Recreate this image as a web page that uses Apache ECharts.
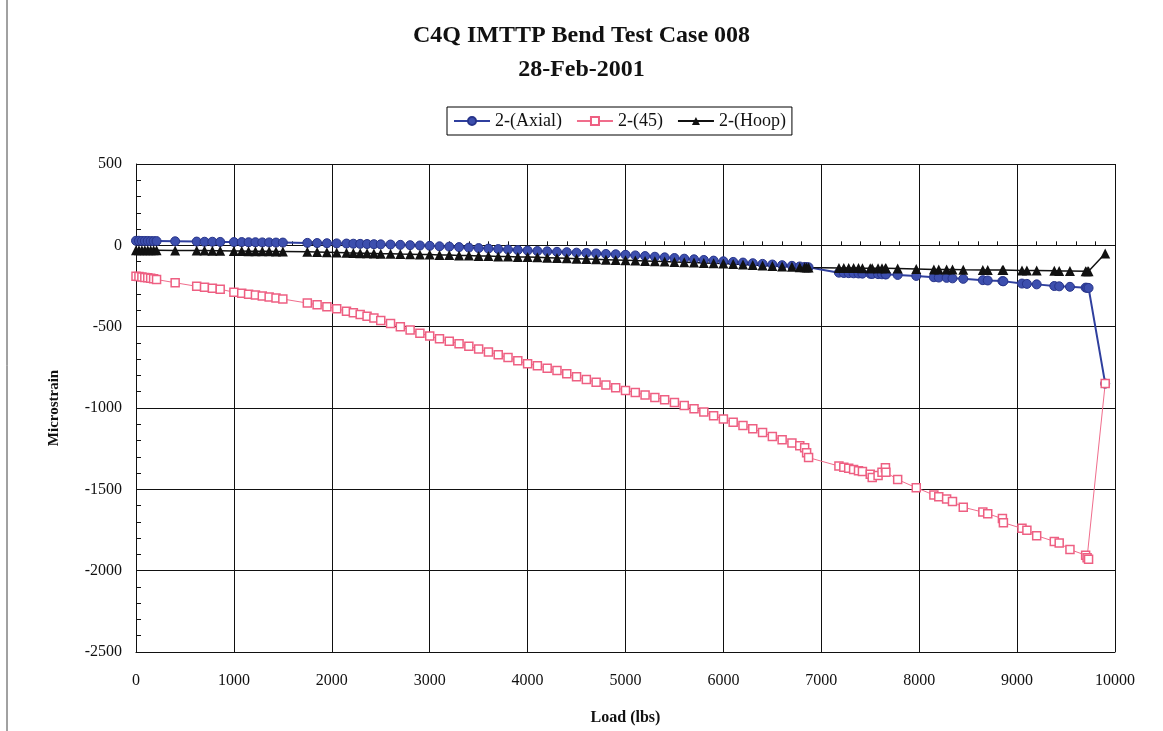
<!DOCTYPE html>
<html>
<head>
<meta charset="utf-8">
<script src="https://cdn.jsdelivr.net/npm/echarts@6/dist/echarts.min.js"></script>
<style>
  html, body { margin: 0; padding: 0; background: #fff; }
  #chart { width: 1163px; height: 731px; }
</style>
</head>
<body>
<div id="chart"></div>
<script>
// load (lbs) shared by the three gauges
var loads = [0, 30, 60, 90, 120, 150, 180, 210, 400, 620, 700, 780, 860,
  1000, 1080, 1150, 1220, 1290, 1360, 1430, 1500, 1750, 1850, 1950, 2050, 2150,
  2220, 2290, 2360, 2430, 2500, 2600, 2700, 2800, 2900, 3000, 3100, 3200, 3300,
  3400, 3500, 3600, 3700, 3800, 3900, 4000, 4100, 4200, 4300, 4400, 4500, 4600,
  4700, 4800, 4900, 5000, 5100, 5200, 5300, 5400, 5500, 5600, 5700, 5800, 5900,
  6000, 6100, 6200, 6300, 6400, 6500, 6600, 6700, 6780, 6830, 6850, 6870, 7180,
  7230, 7280, 7330, 7380, 7420, 7500, 7520, 7580, 7620, 7655, 7660, 7780, 7970,
  8150, 8200, 8280, 8340, 8450, 8650, 8700, 8850, 8860, 9050, 9100, 9200, 9380,
  9430, 9540, 9700, 9715, 9730, 9900];

var axial = [28, 28, 27, 27, 27, 26, 26, 26, 25, 23, 22, 22, 21,
  20, 20, 19, 19, 18, 18, 17, 17, 15, 14, 13, 12, 11,
  10, 9, 8, 7, 6, 5, 3, 1, -1, -3, -6, -8, -11,
  -14, -17, -20, -23, -26, -29, -32, -35, -37, -40, -42, -45, -47,
  -50, -53, -55, -58, -62, -66, -70, -74, -78, -82, -86, -90, -94,
  -98, -102, -106, -110, -114, -118, -122, -126, -130, -133, -134, -135, -168,
  -170, -171, -172, -173, -174, -175, -176, -177, -178, -178, -179, -182, -188,
  -196, -198, -200, -203, -206, -214, -216, -220, -221, -235, -237, -240, -250,
  -252, -255, -260, -261, -262, -850];

var deg45 = [-190, -192, -195, -197, -200, -203, -206, -210, -230, -252, -258, -264, -270,
  -288, -294, -300, -306, -312, -318, -324, -330, -355, -366, -378, -390, -405,
  -415, -425, -436, -447, -462, -480, -500, -520, -540, -558, -575, -590, -605,
  -620, -637, -655, -672, -690, -710, -728, -740, -755, -770, -790, -808, -825,
  -842, -858, -875, -892, -905, -920, -935, -950, -966, -985, -1005, -1025, -1047,
  -1068, -1088, -1108, -1128, -1150, -1175, -1195, -1215, -1232, -1245, -1275, -1305, -1357,
  -1365, -1370, -1378, -1385, -1390, -1408, -1428, -1415, -1395, -1368, -1395, -1440, -1490,
  -1535, -1545, -1560, -1575, -1610, -1640, -1650, -1680, -1705, -1740, -1752, -1785, -1820,
  -1830, -1870, -1905, -1920, -1930, -850];

var hoop = [-30, -30, -30, -30, -30, -30, -30, -30, -31, -32, -32, -33, -33,
  -35, -35, -36, -36, -37, -37, -38, -38, -40, -41, -42, -44, -46,
  -47, -48, -49, -50, -51, -52, -54, -55, -56, -57, -59, -60, -62,
  -63, -65, -66, -68, -69, -71, -72, -74, -76, -78, -80, -82, -84,
  -86, -88, -90, -92, -94, -96, -98, -100, -102, -104, -106, -108, -110,
  -112, -115, -118, -121, -124, -127, -130, -132, -134, -135, -136, -137, -140,
  -140, -140, -140, -140, -141, -141, -141, -141, -141, -141, -141, -142, -145,
  -148, -148, -149, -149, -150, -151, -151, -152, -152, -154, -154, -155, -157,
  -158, -158, -160, -160, -160, -50];

var seriesNames = ['2-(Axial)', '2-(45)', '2-(Hoop)'];
var xTicks = { min: 0, max: 10000, step: 1000 };
var yTicks = { min: -2500, max: 500, step: 500 };

function pairs(vals) {
  return loads.map(function (x, i) { return [x, vals[i]]; });
}
// plain numbers, no thousands separator
function plain(v) { return String(v); }

var serif = '"Liberation Serif", "DejaVu Serif", serif';
var chart = echarts.init(document.getElementById('chart'), null, { renderer: 'canvas' });

var option = {
  backgroundColor: '#fff',
  animation: false,
  title: {
    text: 'C4Q IMTTP Bend Test Case 008\n28-Feb-2001',
    left: 'center',
    top: 14,
    textStyle: { fontFamily: serif, fontWeight: 'bold', fontSize: 24, lineHeight: 34, color: '#111' }
  },
  legend: {
    data: seriesNames,
    left: 447,
    top: 107,
    padding: [5, 6, 5, 6],
    itemGap: 14,
    itemWidth: 36,
    itemHeight: 10,
    borderColor: '#000',
    borderWidth: 1,
    textStyle: { fontFamily: serif, fontSize: 18, color: '#111' }
  },
  grid: { left: 136, right: 48, top: 164, bottom: 77 },
  xAxis: [{
    type: 'value',
    min: xTicks.min, max: xTicks.max, interval: xTicks.step,
    position: 'bottom',
    name: 'Load (lbs)',
    nameLocation: 'middle',
    nameGap: 58,
    nameTextStyle: { fontFamily: serif, fontWeight: 'bold', fontSize: 16, color: '#111' },
    axisLine: { onZero: false, lineStyle: { color: '#111', width: 1 } },
    axisTick: { show: false },
    axisLabel: { margin: 21, fontFamily: serif, fontSize: 16, color: '#111', formatter: plain },
    splitLine: { show: true, lineStyle: { color: '#111', width: 1 } }
  }, {
    // the crossing axis line at zero, with its small tick marks
    type: 'value',
    min: xTicks.min, max: xTicks.max, interval: xTicks.step,
    axisLine: { onZero: true, lineStyle: { color: '#111', width: 1 } },
    axisTick: { show: true, inside: false, length: 4, lineStyle: { color: '#111' } },
    minorTick: { show: true, splitNumber: 5, length: 4, lineStyle: { color: '#111' } },
    axisLabel: { show: false },
    splitLine: { show: false }
  }],
  yAxis: {
    type: 'value',
    min: yTicks.min, max: yTicks.max, interval: yTicks.step,
    name: 'Microstrain',
    nameLocation: 'middle',
    nameGap: 74,
    nameTextStyle: { fontFamily: serif, fontWeight: 'bold', fontSize: 15, color: '#111' },
    axisLine: { show: true, lineStyle: { color: '#111', width: 1 } },
    axisTick: { show: true, inside: true, length: 5, lineStyle: { color: '#111' } },
    minorTick: { show: true, splitNumber: 5, length: 5, lineStyle: { color: '#111' } },
    axisLabel: { margin: 14, fontFamily: serif, fontSize: 16, color: '#111', formatter: plain },
    splitLine: { show: true, lineStyle: { color: '#111', width: 1 } }
  },
  series: [{
    name: seriesNames[0],
    type: 'line',
    data: pairs(axial),
    symbol: 'circle',
    symbolSize: 9,
    lineStyle: { color: '#2f3f9e', width: 2 },
    itemStyle: { color: '#3d4fae', borderColor: '#27348a', borderWidth: 1 }
  }, {
    name: seriesNames[1],
    type: 'line',
    data: pairs(deg45),
    symbol: 'rect',
    symbolSize: 8,
    lineStyle: { color: '#f06d8c', width: 1 },
    itemStyle: { color: '#fff', borderColor: '#ee5f82', borderWidth: 1.5 }
  }, {
    name: seriesNames[2],
    type: 'line',
    data: pairs(hoop),
    symbol: 'triangle',
    symbolSize: 10,
    lineStyle: { color: '#111', width: 1.5 },
    itemStyle: { color: '#111', borderColor: '#111', borderWidth: 0 }
  }],
  graphic: [{
    type: 'line',
    shape: { x1: 7, y1: 0, x2: 7, y2: 731 },
    style: { stroke: '#444', lineWidth: 1 }
  }]
};

chart.setOption(option);
</script>
</body>
</html>
